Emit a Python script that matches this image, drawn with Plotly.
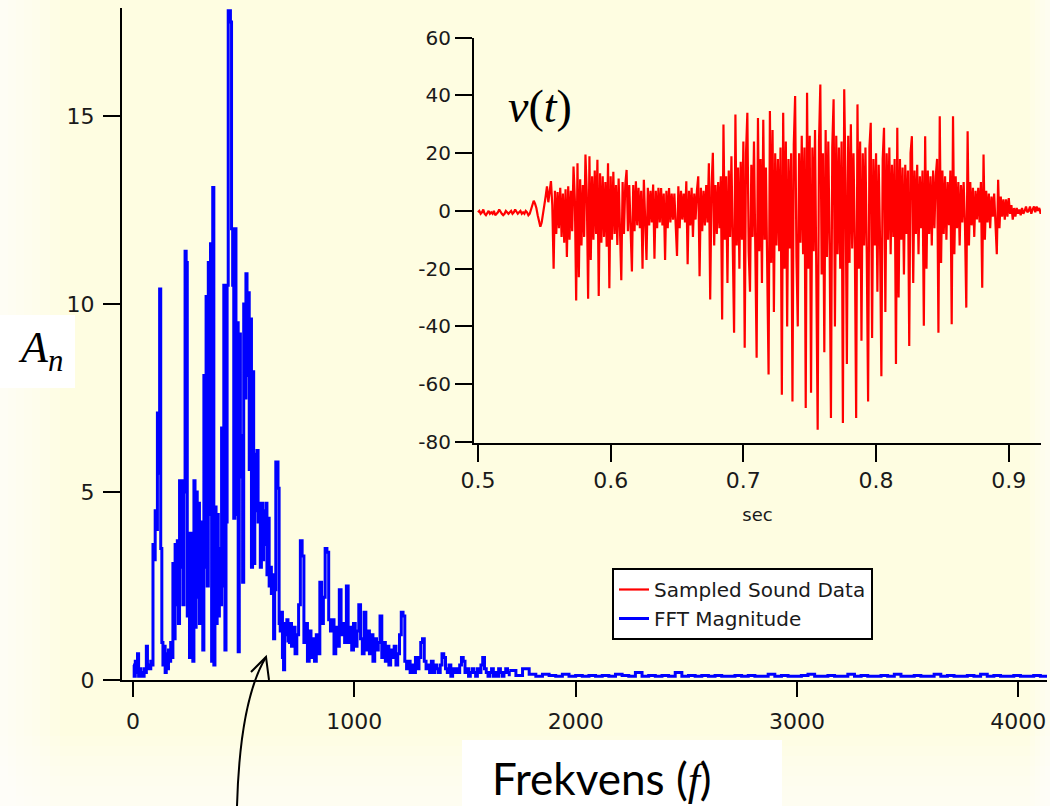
import plotly.graph_objects as go

# FFT magnitude (main panel) in three pieces of even spacing
fft_lo_f0, fft_lo_df = 0, 5
fft_lo = [
    0.4, 0.1, 0.5, 0.2, 0.7, 0.1, 0.3, 0.1, 0.2, 0.1, 0.3, 0.2, 0.9, 0.3, 0.4, 0.3, 0.5, 0.4,
    3.6, 3.2, 4.5, 4.0, 7.1, 5.5, 10.4, 3.5, 1.0, 0.4, 0.9, 0.2, 0.7, 0.3, 0.8, 0.5, 1.0, 0.6,
    3.1, 1.1, 3.6, 2.0, 3.7, 1.5, 5.3, 3.0, 5.3, 2.0, 5.0, 11.4, 11.1, 1.7, 3.9, 0.6, 3.9, 1.2,
    0.5, 5.3, 1.4, 5.0, 2.2, 4.7, 1.5, 4.2, 3.0, 0.8, 8.1, 3.0, 10.2, 2.5, 11.1, 4.4, 11.6, 0.5,
    13.1, 0.4, 4.6, 1.5, 4.4, 1.7, 3.5, 2.0, 6.7, 2.5, 10.5, 0.8, 4.2, 10.5, 17.8, 17.8, 17.5, 12.0,
    10.5, 4.3, 12.0, 4.4, 9.5, 0.75, 9.2, 5.4, 6.5, 2.6, 10.0, 7.5, 10.8, 8.1, 10.3, 5.6, 9.6, 3.0,
    8.2, 3.1, 6.0, 4.5, 6.1, 4.2, 4.7, 3.0, 4.7, 3.2, 4.5, 3.6, 4.7, 2.8, 4.3, 2.5, 3.0, 2.3,
    2.8, 1.1, 2.4, 5.8, 5.8, 5.1, 1.5, 1.3, 1.8, 0.6, 0.27, 1.5, 1.2, 1.6, 1.0,
]
fft_mid_f0, fft_mid_df = 700, 8
fft_mid = [
    1.0, 1.5, 0.9, 1.4, 0.7, 1.2, 2.0, 3.7, 3.3, 1.0, 1.5, 0.5, 1.3, 0.6, 1.1, 0.5, 1.2, 0.7,
    2.6, 1.5, 2.2, 3.5, 3.4, 1.6, 1.3, 1.6, 0.7, 1.4, 0.9, 2.4, 1.2, 1.5, 1.0, 2.5, 1.0, 1.4,
    0.8, 1.5, 0.9, 1.3, 2.0, 1.1, 0.7, 1.8, 0.8, 1.3, 0.7, 1.2, 0.5, 1.1, 0.8, 1.0, 1.7, 0.6,
    1.0, 0.5, 0.9, 0.4, 0.8, 0.6, 0.9, 0.4, 0.7, 1.2, 1.8, 1.7, 0.5, 0.3, 0.5, 0.2, 0.4, 0.2,
    0.6, 0.3, 0.6, 1.0, 1.1, 0.5, 0.3, 0.4, 0.2, 0.5, 0.2, 0.4, 0.3, 0.2, 0.4, 0.7, 0.6, 0.3,
    0.2, 0.4, 0.1, 0.3, 0.2, 0.3, 0.2, 0.4, 0.6, 0.5, 0.2, 0.3, 0.1, 0.2, 0.3, 0.2, 0.1, 0.3,
    0.2, 0.4, 0.6, 0.3, 0.2, 0.1, 0.2, 0.3, 0.1, 0.2, 0.1, 0.3, 0.2, 0.1, 0.2, 0.3, 0.2, 0.1,
]
fft_tail_f0, fft_tail_df = 1700, 30
fft_tail = [
    0.25, 0.12, 0.3, 0.15, 0.1, 0.15, 0.12, 0.1, 0.15, 0.1,
    0.12, 0.1, 0.12, 0.1, 0.12, 0.1, 0.15, 0.12, 0.1, 0.2,
    0.1, 0.12, 0.1, 0.12, 0.1, 0.2, 0.1, 0.12, 0.1, 0.12,
    0.1, 0.12, 0.1, 0.1, 0.12, 0.1, 0.12, 0.1, 0.1, 0.15,
    0.1, 0.12, 0.1, 0.1, 0.12, 0.15, 0.1, 0.1, 0.12, 0.1,
    0.1, 0.15, 0.1, 0.12, 0.1, 0.1, 0.12, 0.1, 0.15, 0.1,
    0.1, 0.12, 0.1, 0.1, 0.15, 0.1, 0.12, 0.1, 0.1, 0.12,
    0.1, 0.15, 0.1, 0.12, 0.1, 0.1, 0.12, 0.1, 0.1, 0.12,
    0.1, 0.12,
]

# sampled sound (inset), one value per ms starting at 0.5 s
sound_t0, sound_dt = 0.5, 0.001
sound_v = [
    -0.5, 0, -1, -0.5, 0.5, -1, -1.5, -0.5, 0, -1,
    -0.5, -1, 0, -1.5, -1, -0.5, 0.5, -0.5, -1, -1.5,
    -1, 0, -0.5, -1, -0.5, 0, -1, -0.5, 0.5, -0.5,
    -1, -0.5, 0, -1, -0.5, -1, 0, -0.5, -1.5, -1,
    0.5, 2, 3.5, 2.5, 1, -1.5, -3.5, -5.5, -4, -1.5,
    2, 5, 8.5, 3, 6.5, 10.3, 2, -20, 7, -8,
    6.5, -6, 8, -9, 6, -11, 7.5, -16, 8.5, -10,
    7, -7, 15.4, 4, -31, 16.5, -23, 11, -12, 9,
    -9, 19.5, 6, -30.4, 18.9, -17, 12, -10, 14, -8,
    17.7, -29.5, 13, -11, 12, -9, 10, -12.4, 16.5, -26.8,
    12, -10, 13.6, -8, 9, -11.8, 11.2, -6, -24, 10,
    -8, 9, 14.2, -7, 9, -6, -21, 9, -7, 10.3,
    -5, 8, -6, 7, -20, 10.8, -6, -17, 8, -5,
    7, -4, 9.1, -16.6, 7, -6, 8, -4, 7.9, -5,
    6, -17, 7, -6, 7.9, -4, 6, -3, 6, -5,
    -15.6, 8.5, -6, 7, -3, 6, -4, 10.3, -18.5, 7,
    -5, 8, -9, 6, -3, 7, 12, -22.6, 8, -7,
    7, -5, 9, -4, 16.5, -30.7, 8, 20.1, -12, 9,
    -8, 10, -6, 12, -37.6, 29.9, -10, 12, -25, 14,
    -9, 18.9, -11, -42.2, 33.4, -12, 15, -20, 17, -10,
    24, -47.4, 20, 34, -14, -28, 16, -9, 24, -12,
    -50.9, 32.2, -14, 18, -25, 31.6, -10, 15, -13, -56.7,
    34.6, -18, 28, -35, 20, -12, 18, -14, 22, -63.7,
    34, -20, 24, -40, 18, -13, 20, -66, 23, 39.8,
    -16, -40, 20, -11, 26, -15, 22, -68.3, 40.9, -20,
    26, -63, 22, -14, 28, -18, -75.8, 24, 43.8, -22,
    20, -49, 28, -16, 24, -12, -71.7, 22, 38.7, -40,
    26, -15, 22, -20, 24, -73.5, 42.1, 10, -53, 26,
    -18, 30, -13, 20, -12, -71.7, 36.9, -20, 24, -45,
    20, -12, 22, -15, -66, 22, 30.5, -44, 18, -12,
    20, -28, 16, -10, -57.3, 18, 28.8, -35, 20, -10,
    22, -15, 16, -9, 18, -53, 28.8, -30, 18, -10,
    15, -22, 16, -8, 14, -46.8, 20, 25.9, -25, 14,
    -8, 16, -15, 12, -6, 14, -39.8, 25.9, -20, 14,
    -8, 12, -12, 14, -6, 12, 18, -42.2, 32.8, -18,
    14, -8, 12, -10, 10, -5, 14, -39.3, 32.8, -15,
    12, -6, 10, -12, 9, -4, 10, -5, -33.5, 27.6,
    -12, 10, -5, 8, -9, 7, -3, 8, -4, 10,
    -26.6, 19.5, -10, 7, -4, 6, -6, 5, -2, 6,
    -3, -15, 10.8, -6, 5, -2, 4, -3, 4, -2,
    4.4, -1, 2, -3, 1, -2, 1, -1, 0.5, -1.5,
    1, -1, 0, 1.5, -0.5, 0, 1.5, -1, 0.5, 1.5,
    -0.5, 1.5, 0, 1, -1, 0.5,
]

freq_ticks = [0, 1000, 2000, 3000, 4000]
amp_ticks = [0, 5, 10, 15]
sec_ticks = [0.5, 0.6, 0.7, 0.8, 0.9]
sec_labels = ['0.5', '0.6', '0.7', '0.8', '0.9']
volt_ticks = [-80, -60, -40, -20, 0, 20, 40, 60]
volt_labels = ['-80', '-60', '-40', '-20', '0', '20', '40', '60']

W, H = 1050, 806
ML, MR, MT, MB = 122, 3, 8, 126
PW, PH = W - ML - MR, H - MT - MB


# pixel -> paper helpers for decorations
def px(x):
    return (x - ML) / PW


def py(y):
    return (H - MB - y) / PH


BG = '#fefde1'
tick_font = dict(family='DejaVu Sans', size=22, color='#1a1a1a')

fig = go.Figure()

fig.add_trace(go.Scatter(
    x0=sound_t0, dx=sound_dt, y=sound_v, xaxis='x2', yaxis='y2',
    mode='lines', line=dict(color='#ff0000', width=2.2),
    name='Sampled Sound Data'))

for i, (f0, df, vals) in enumerate([(fft_lo_f0, fft_lo_df, fft_lo),
                                    (fft_mid_f0, fft_mid_df, fft_mid),
                                    (fft_tail_f0, fft_tail_df, fft_tail)]):
    fig.add_trace(go.Scatter(
        x0=f0, dx=df, y=vals, mode='lines', line_shape='hv',
        line=dict(color='#0000ff', width=3),
        name='FFT Magnitude', legendgroup='fft', showlegend=(i == 0)))

axis_common = dict(showline=True, linecolor='black', linewidth=2, ticks='outside',
                   tickwidth=2, tickcolor='black', showgrid=False, zeroline=False,
                   automargin=False, tickfont=tick_font)

fig.update_layout(
    width=W, height=H,
    margin=dict(l=ML, r=MR, t=MT, b=MB, autoexpand=False),
    paper_bgcolor=BG, plot_bgcolor='rgba(0,0,0,0)',
    xaxis=dict(domain=[0, 1], range=[-50, 4130], tickvals=freq_ticks, ticklen=15,
               ticklabelstandoff=6, anchor='y', **axis_common),
    yaxis=dict(domain=[0, 1], range=[0, 17.87], tickvals=amp_ticks, ticklen=17,
               ticklabelstandoff=4, anchor='x', **axis_common),
    xaxis2=dict(domain=[px(474), px(1041)], range=[0.497, 0.9243], anchor='y2',
                tickvals=sec_ticks, ticktext=sec_labels, ticklen=17,
                title=dict(text='sec', font=dict(family='DejaVu Sans', size=18, color='#1a1a1a'),
                           standoff=16),
                **axis_common),
    yaxis2=dict(domain=[py(443), py(37.7)], range=[-80.4, 60], anchor='x2',
                tickvals=volt_ticks, ticktext=volt_labels, ticklen=17,
                **{**axis_common, 'tickfont': dict(family='DejaVu Sans', size=20, color='#1a1a1a')}),
    legend=dict(x=px(612), y=py(568), xanchor='left', yanchor='top',
                bgcolor='white', bordercolor='black', borderwidth=2,
                font=dict(family='DejaVu Sans', size=20, color='#1a1a1a'),
                traceorder='normal'),
    showlegend=True,
)

shapes = []
# soft white fade round the edges of the picture
for w in [8, 16, 24, 32, 40, 50, 60]:
    shapes.append(dict(type='rect', xref='paper', yref='paper', x0=px(0), x1=px(w),
                       y0=py(H), y1=py(0), fillcolor='white', opacity=0.15,
                       line=dict(width=0), layer='below'))
for h in [10, 20, 30, 40, 50, 60, 70]:
    shapes.append(dict(type='rect', xref='paper', yref='paper', x0=px(0), x1=px(W),
                       y0=py(H), y1=py(H - h), fillcolor='white', opacity=0.12,
                       line=dict(width=0), layer='below'))
for w in [5, 10, 15, 20]:
    shapes.append(dict(type='rect', xref='paper', yref='paper', x0=px(W - w), x1=px(W),
                       y0=py(H), y1=py(0), fillcolor='white', opacity=0.18,
                       line=dict(width=0), layer='below'))
# white boxes behind the pasted labels
shapes.append(dict(type='rect', xref='paper', yref='paper', x0=px(0), x1=px(75),
                   y0=py(388), y1=py(315), fillcolor='white', line=dict(width=0)))
shapes.append(dict(type='rect', xref='paper', yref='paper', x0=px(462), x1=px(782),
                   y0=py(H), y1=py(740), fillcolor='white', line=dict(width=0)))
# curved arrow pointing at the spectrum
shapes.append(dict(type='path', xref='paper', yref='paper',
                   path=f'M{px(237)},{py(806)} Q{px(240)},{py(700)} {px(266)},{py(657)}',
                   line=dict(color='black', width=2)))
shapes.append(dict(type='path', xref='paper', yref='paper',
                   path=f'M{px(251)},{py(672)} L{px(266)},{py(657)} L{px(269)},{py(680)}',
                   line=dict(color='black', width=2)))
fig.update_layout(shapes=shapes)

serif = 'Liberation Serif'
label_style = dict(xref='paper', yref='paper', showarrow=False, xanchor='center', yanchor='middle')
fig.add_annotation(x=px(40), y=py(350), text='<i>A</i><sub><i>n</i></sub>',
                   font=dict(family=serif, size=44, color='black'), **label_style)
fig.add_annotation(x=px(540), y=py(106), text='<i>v</i>(<i>t</i>)',
                   font=dict(family=serif, size=46, color='black'), **label_style)
fig.add_annotation(x=px(602), y=py(778),
                   text=f'Frekvens (<span style="font-family:{serif}"><i>f</i></span>)',
                   font=dict(family='Lato', size=44, color='black'), **label_style)

# the page body has a default 8px margin; drop it so the figure fills the window
fig.write_html('out.html', config={'displayModeBar': False},
               post_script="document.body.style.margin='0';")
